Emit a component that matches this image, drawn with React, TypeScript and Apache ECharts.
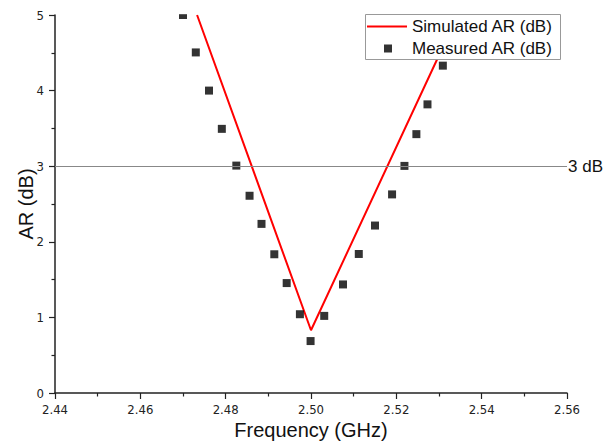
import React, { useEffect, useRef } from "react";
import * as echarts from "echarts";

// Frequency (GHz) / AR (dB)
const simulatedFreq = [2.4733, 2.5, 2.5344];
const simulatedAR = [5.0, 0.83, 5.0];

const measuredFreq = [
  2.47, 2.473, 2.4761, 2.4791, 2.4825, 2.4856, 2.4884, 2.4914, 2.4943, 2.4974,
  2.4999, 2.5031, 2.5075, 2.5112, 2.515, 2.519, 2.5219, 2.5247, 2.5273, 2.5309,
];
const measuredAR = [
  5.0, 4.505, 4.0, 3.494, 3.008, 2.609, 2.237, 1.835, 1.454, 1.042,
  0.687, 1.02, 1.436, 1.839, 2.215, 2.627, 3.004, 3.424, 3.818, 4.33,
];

const thresholdDB = 3;
const thresholdLabel = "3 dB";
const seriesNames = ["Simulated AR (dB)", "Measured AR (dB)"];
const xName = "Frequency (GHz)";
const yName = "AR (dB)";

const LAB = "'DejaVu Sans Condensed', 'Liberation Sans', Arial, sans-serif";
const ARIAL = "'Liberation Sans', Arial, sans-serif";

export default function App() {
  const ref = useRef<HTMLDivElement>(null);
  useEffect(() => {
    if (!ref.current) return;
    const chart = echarts.init(ref.current, undefined, { renderer: "svg" });
    const simData = simulatedFreq.map((f, i) => [f, simulatedAR[i]]);
    const measData = measuredFreq.map((f, i) => [f, measuredAR[i]]);
    chart.setOption({
      animation: false,
      backgroundColor: "#fff",
      grid: { left: 55, right: 47, top: 15, bottom: 49 },
      xAxis: {
        type: "value",
        min: 2.44,
        max: 2.56,
        interval: 0.02,
        name: xName,
        nameLocation: "middle",
        nameGap: 27,
        nameMoveOverlap: false,
        nameTextStyle: { fontFamily: ARIAL, fontSize: 20, color: "#111" },
        axisLine: { show: true, onZero: false, lineStyle: { color: "#222", width: 1.5 } },
        axisTick: { show: true, length: 6, lineStyle: { color: "#222", width: 1.2 } },
        minorTick: { show: true, splitNumber: 2, length: 3.5, lineStyle: { color: "#222", width: 1.2 } },
        splitLine: { show: false },
        axisLabel: {
          fontFamily: LAB,
          fontSize: 13,
          color: "#222",
          margin: 10,
          formatter: (v: number) => v.toFixed(2),
        },
      },
      yAxis: {
        type: "value",
        min: 0,
        max: 5,
        interval: 1,
        name: yName,
        nameLocation: "middle",
        nameGap: 19,
        nameMoveOverlap: false,
        nameTextStyle: { fontFamily: ARIAL, fontSize: 20, color: "#111" },
        axisLine: { show: true, onZero: false, lineStyle: { color: "#222", width: 1.5 } },
        axisTick: { show: true, length: 6, lineStyle: { color: "#222", width: 1.2 } },
        minorTick: { show: true, splitNumber: 2, length: 3.5, lineStyle: { color: "#222", width: 1.2 } },
        splitLine: { show: false },
        axisLabel: { fontFamily: LAB, fontSize: 13, color: "#222", margin: 11 },
      },
      legend: [
        {
          data: [{ name: seriesNames[0], icon: "rect" }],
          left: 367,
          top: 18,
          padding: 0,
          itemWidth: 40,
          itemHeight: 2,
          itemGap: 0,
          textStyle: { fontFamily: ARIAL, fontSize: 17, color: "#111" },
        },
        {
          data: [{ name: seriesNames[1], icon: "rect" }],
          left: 384,
          top: 40,
          padding: 0,
          itemWidth: 8,
          itemHeight: 8,
          itemGap: 0,
          textStyle: { fontFamily: ARIAL, fontSize: 17, color: "#111", padding: [0, 0, 0, 15] },
        },
      ],
      graphic: [
        {
          type: "rect",
          z: 3,
          shape: { x: 365.5, y: 14.5, width: 195, height: 45 },
          style: { fill: "#fff", stroke: "#999", lineWidth: 1 },
        },
        {
          type: "rect",
          z: 3,
          shape: { x: 170, y: 0, width: 25, height: 14.2 },
          style: { fill: "#fff" },
        },
      ],
      series: [
        {
          name: seriesNames[0],
          type: "line",
          data: simData,
          symbol: "none",
          clip: true,
          lineStyle: { color: "#ff0000", width: 2 },
          itemStyle: { color: "#ff0000" },
          z: 2,
          markLine: {
            silent: true,
            symbol: "none",
            lineStyle: { color: "#888", width: 1, type: "solid" },
            label: {
              show: true,
              position: "end",
              distance: 1,
              formatter: thresholdLabel,
              fontFamily: ARIAL,
              fontSize: 17,
              color: "#111",
            },
            data: [{ yAxis: thresholdDB }],
          },
        },
        {
          name: seriesNames[1],
          type: "scatter",
          data: measData,
          symbol: "rect",
          symbolSize: 8,
          itemStyle: { color: "#000" },
          z: 2,
        },
      ],
    });
    return () => chart.dispose();
  }, []);
  return <div ref={ref} style={{ width: 614, height: 445, position: "absolute", left: 0, top: 0 }} />;
}
